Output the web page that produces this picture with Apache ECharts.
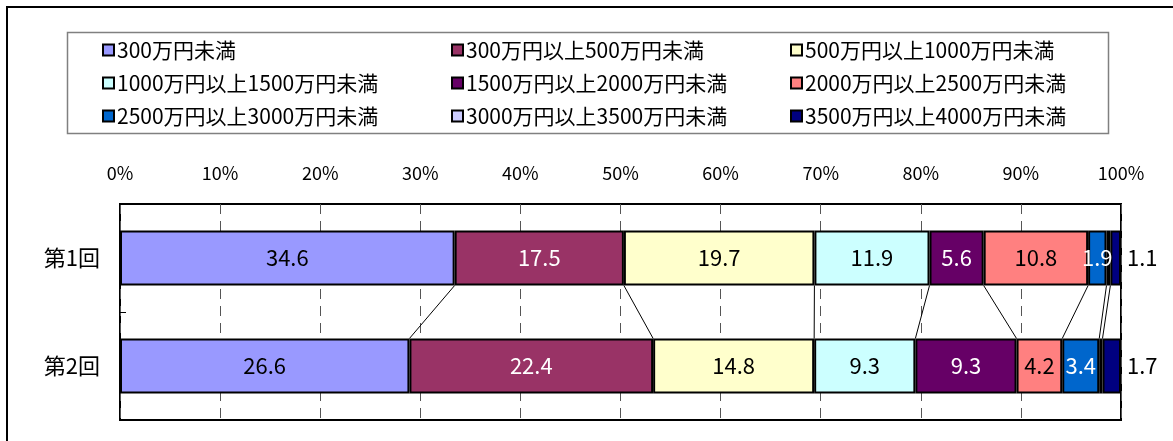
<!DOCTYPE html>
<html>
<head>
<meta charset="utf-8">
<script src="https://cdn.jsdelivr.net/npm/echarts@6/dist/echarts.min.js"></script>
<style>
html,body{margin:0;padding:0;background:#fff;}
#chart{width:1173px;height:441px;}
</style>
</head>
<body>
<div id="chart"></div>
<script>
const categories = ['第1回', '第2回'];
const seriesNames = [
  '300万円未満', '300万円以上500万円未満', '500万円以上1000万円未満',
  '1000万円以上1500万円未満', '1500万円以上2000万円未満', '2000万円以上2500万円未満',
  '2500万円以上3000万円未満', '3000万円以上3500万円未満', '3500万円以上4000万円未満'
];
const round1 = [34.6, 17.5, 19.7, 11.9, 5.6, 10.8, 1.9, 0.4, 1.1];
const round2 = [26.6, 22.4, 14.8, 9.3, 9.3, 4.2, 3.4, 0.3, 1.7];
const colors = ['#9999FF', '#993366', '#FFFFCC', '#CCFFFF', '#660066', '#FF8080', '#0066CC', '#CCCCFF', '#000080'];
const labelColors = ['#000', '#fff', '#000', '#000', '#fff', '#000', '#fff', '#000', '#000'];

const rounds = [round1, round2];
const pct = rounds.map(r => { const s = r.reduce((a, b) => a + b, 0); return r.map(v => v / s * 100); });
const cum = pct.map(p => { let c = 0; return p.map(v => (c += v)); });

const FONT = '"Noto Sans CJK JP", "Noto Sans", sans-serif';
const BAR_W = 55;

const barSeries = seriesNames.map((name, i) => ({
  name: name,
  type: 'bar',
  stack: 'total',
  barWidth: BAR_W,
  data: [pct[0][i], pct[1][i]],
  itemStyle: { color: colors[i], borderColor: '#000', borderWidth: 2 },
  label: {
    show: i !== 7,
    position: i === 8 ? 'right' : 'inside',
    distance: 6,
    color: i === 8 ? '#000' : labelColors[i],
    fontFamily: FONT,
    fontSize: 22,
    formatter: p => String(rounds[p.dataIndex][i])
  }
}));

const connectorData = [];
for (let k = 0; k < seriesNames.length - 1; k++) {
  connectorData.push([cum[0][k], cum[1][k], 0]);
}

const connector = {
  type: 'custom',
  silent: true,
  encode: { x: [0, 1], y: 2 },
  data: connectorData,
  z: 5,
  renderItem: function (params, api) {
    const p1 = api.coord([api.value(0), 0]);
    const p2 = api.coord([api.value(1), 1]);
    const h = BAR_W / 2;
    return {
      type: 'line',
      shape: { x1: p1[0], y1: p1[1] + h, x2: p2[0], y2: p2[1] - h },
      style: { stroke: '#000', lineWidth: 1 }
    };
  }
};

const legendCols = [[0, 3, 6], [1, 4, 7], [2, 5, 8]];
const legendLeft = [97, 446, 785];
const legends = legendCols.map((idx, c) => ({
  orient: 'vertical',
  left: legendLeft[c],
  top: 34,
  itemWidth: 11,
  itemHeight: 11,
  itemGap: 11,
  icon: 'rect',
  selectedMode: false,
  data: idx.map(i => seriesNames[i]),
  itemStyle: { borderColor: '#000', borderWidth: 2 },
  textStyle: { fontFamily: FONT, fontSize: 21, color: '#000', lineHeight: 22, padding: [0, 0, 0, -2] }
}));

const chart = echarts.init(document.getElementById('chart'), null, { renderer: 'canvas' });
chart.setOption({
  animation: false,
  backgroundColor: '#fff',
  graphic: [
    { type: 'rect', shape: { x: 7, y: 7, width: 1200, height: 500 }, style: { fill: 'none', stroke: '#000', lineWidth: 2 }, z: 0 },
    { type: 'rect', shape: { x: 67.5, y: 32.5, width: 1041, height: 101 }, style: { fill: 'none', stroke: '#808080', lineWidth: 1.5 }, z: 0 }
  ],
  legend: legends,
  grid: { left: 120, right: 52, top: 204, bottom: 21, show: true, borderColor: '#000', borderWidth: 2, backgroundColor: 'transparent' },
  xAxis: {
    type: 'value',
    position: 'top',
    min: 0,
    max: 100,
    interval: 10,
    axisLine: { show: false },
    axisTick: { show: false },
    axisLabel: { formatter: '{value}%', fontFamily: FONT, fontSize: 18, color: '#000', margin: 22 },
    splitLine: { show: true, lineStyle: { color: '#555', width: 1, type: [10, 7] } }
  },
  yAxis: {
    type: 'category',
    inverse: true,
    data: categories,
    axisLine: { show: false },
    axisTick: { show: true, inside: true, length: 6, lineStyle: { color: '#000' } },
    axisLabel: { fontFamily: FONT, fontSize: 22, color: '#000', margin: 20 }
  },
  series: barSeries.concat([connector])
});
</script>
</body>
</html>
